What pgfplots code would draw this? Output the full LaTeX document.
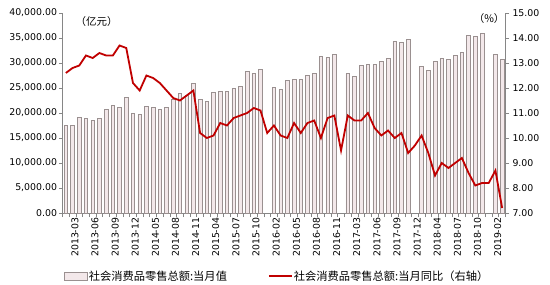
\documentclass[border=0pt]{standalone}
\usepackage{pgfplots}
\pgfplotsset{compat=1.18}
\usepackage{fontspec}
\setmainfont{DejaVu Sans}
\newfontfamily\cjk{Noto Sans CJK SC}
\definecolor{barfill}{HTML}{F3E8EA}
\definecolor{bardraw}{HTML}{9A9090}
\definecolor{linered}{HTML}{C00000}
\definecolor{axgray}{HTML}{868686}
\pgfplotsset{
  linelegend/.style={legend image code/.code={\draw[##1] (0bp,0bp) -- (23bp,0bp);}},
  barlegend/.style={legend image code/.code={\draw[fill=barfill, draw=bardraw, line width=0.6bp] (0bp,-4bp) rectangle (23bp,4bp);}},
}
\begin{document}
\begin{tikzpicture}
\useasboundingbox (-62.5bp,-72bp) rectangle (487.5bp,213bp);
\begin{axis}[
  at={(0bp,0bp)}, anchor=south west,
  scale only axis, width=443bp, height=200bp,
  xmin=-0.5, xmax=65.5, ymin=0, ymax=40000,
  axis y line*=left, axis x line*=bottom,
  axis line style={axgray, line width=0.6bp},
  tick align=outside,
  major tick length=3.5bp, minor tick length=4bp,
  tick style={axgray, line width=0.6bp},
  major x tick style={draw=none},
  xtick={0,3,...,63},
  minor xtick={-0.5,0.5,...,65.5},
  xticklabels={2013-03,2013-06,2013-09,2013-12,2014-05,2014-08,2014-11,2015-04,2015-07,2015-10,2016-02,2016-05,2016-08,2016-11,2017-03,2017-06,2017-09,2017-12,2018-04,2018-07,2018-10,2019-02},
  xticklabel style={rotate=90, anchor=east, font=\fontsize{9.4}{10}\selectfont, inner sep=1bp, yshift=-9bp},
  ytick={0,5000,...,40000},
  yticklabel style={font=\fontsize{9.4}{10}\selectfont, xshift=1.5bp, /pgf/number format/.cd, fixed, fixed zerofill, precision=2, 1000 sep={,}, assume math mode=true},
  scaled y ticks=false,
  ybar, bar width=3.6bp,
  clip=false,
]
\addplot[fill=barfill, draw=bardraw, line width=0.6bp] coordinates {
(0,17600) (1,17600) (2,19070) (3,18870) (4,18530) (5,19000) (6,20670) (7,21560) (8,21150) (9,23130)
(10,19930) (11,19730) (12,21330) (13,21130) (14,20800) (15,21130) (16,22800) (17,23930) (18,23500) (19,25950)
(20,22730) (21,22400) (22,24200) (23,24400) (24,24330) (25,24870) (26,25330) (27,28400) (28,27930) (29,28730)
(31,25130) (32,24730) (33,26600) (34,26800) (35,26800) (36,27470) (37,27870) (38,31270) (39,31070) (40,31800)
(42,27870) (43,27270) (44,29470) (45,29730) (46,29670) (47,30330) (48,30870) (49,34270) (50,34070) (51,34730)
(53,29270) (54,28600) (55,30330) (56,30870) (57,30730) (58,31600) (59,32130) (60,35530) (61,35400) (62,35870)
(64,31800) (65,30730)
};
\node[font=\cjk\fontsize{10.5}{11}\selectfont] at (rel axis cs:0.077,0.955) {（亿元）};
\node[font=\cjk\fontsize{10.5}{11}\selectfont] at (rel axis cs:0.963,0.97) {（\%）};
\end{axis}
\begin{axis}[
  at={(0bp,0bp)}, anchor=south west,
  scale only axis, width=443bp, height=200bp,
  xmin=-0.5, xmax=65.5, ymin=7, ymax=15,
  axis y line*=right, axis x line=none,
  axis line style={axgray, line width=0.6bp},
  tick align=outside, major tick length=3.5bp,
  tick style={axgray, line width=0.6bp},
  ytick={7,8,...,15},
  yticklabel style={font=\fontsize{9.4}{10}\selectfont, /pgf/number format/.cd, fixed, fixed zerofill, precision=2, assume math mode=true},
  legend columns=2,
  legend style={at={(axis description cs:0,0)}, anchor=west, xshift=-1.5bp, yshift=-63bp,
    draw=none, fill=none, font=\cjk\fontsize{11.3}{12}\selectfont,
    /tikz/every even column/.append style={column sep=40bp},
    nodes={inner sep=1bp}},
  legend cell align=left,
]
\addlegendimage{barlegend}
\addlegendentry{社会消费品零售总额:当月值}
\addplot[linered, line width=1.8bp, mark=none, linelegend] coordinates {
(0,12.6) (1,12.8) (2,12.9) (3,13.3) (4,13.2) (5,13.4) (6,13.3) (7,13.3) (8,13.7) (9,13.6)
(10,12.2) (11,11.9) (12,12.5) (13,12.4) (14,12.2) (15,11.9) (16,11.6) (17,11.5) (18,11.7) (19,11.9)
(20,10.2) (21,10.0) (22,10.1) (23,10.6) (24,10.5) (25,10.8) (26,10.9) (27,11.0) (28,11.2) (29,11.1)
(30,10.2) (31,10.5) (32,10.1) (33,10.0) (34,10.6) (35,10.2) (36,10.6) (37,10.7) (38,10.0) (39,10.8) (40,10.9)
(41,9.5) (42,10.9) (43,10.7) (44,10.7) (45,11.0) (46,10.4) (47,10.1) (48,10.3) (49,10.0) (50,10.2) (51,9.4)
(52,9.7) (53,10.1) (54,9.4) (55,8.5) (56,9.0) (57,8.8) (58,9.0) (59,9.2) (60,8.6) (61,8.1) (62,8.2)
(63,8.2) (64,8.7) (65,7.2)
};
\addlegendentry{社会消费品零售总额:当月同比（右轴）}
\end{axis}
\end{tikzpicture}
\end{document}
